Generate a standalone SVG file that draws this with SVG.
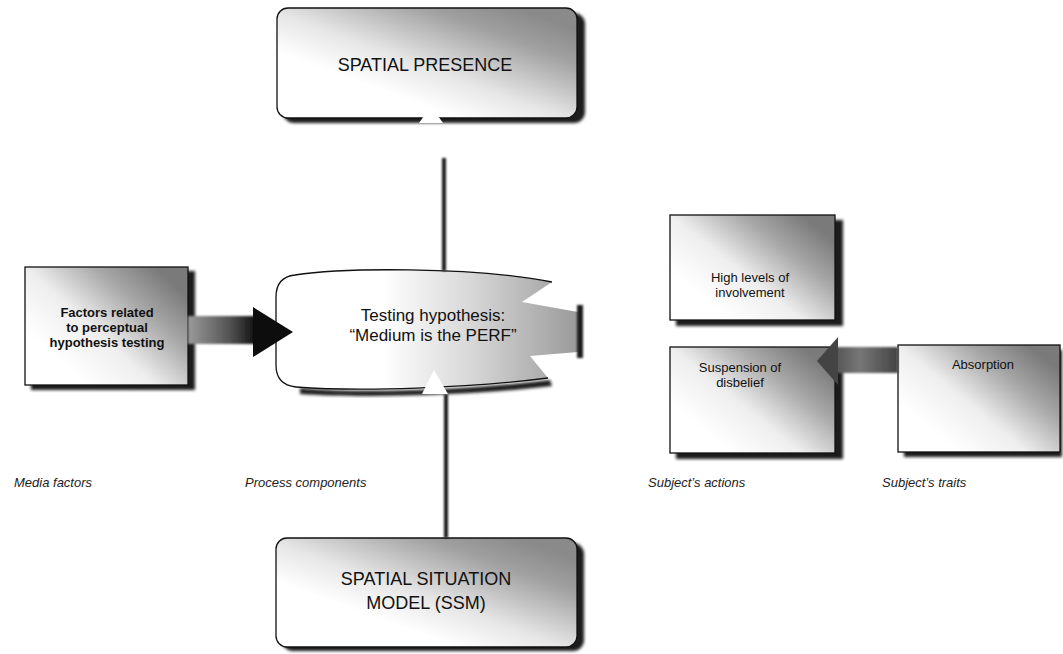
<svg xmlns="http://www.w3.org/2000/svg" width="1063" height="654" viewBox="0 0 1063 654">
  <defs>
    <linearGradient id="gBox" x1="0.25" y1="0.85" x2="1" y2="0.25">
      <stop offset="0" stop-color="#ffffff"/>
      <stop offset="0.35" stop-color="#eeeeee"/>
      <stop offset="0.7" stop-color="#a8a8a8"/>
      <stop offset="1" stop-color="#7a7a7a"/>
    </linearGradient>
    <linearGradient id="gWide" x1="0.4" y1="0.8" x2="1" y2="0.2">
      <stop offset="0" stop-color="#ffffff"/>
      <stop offset="0.3" stop-color="#e6e6e6"/>
      <stop offset="0.75" stop-color="#a0a0a0"/>
      <stop offset="1" stop-color="#8a8a8a"/>
    </linearGradient>
    <linearGradient id="gCenter" x1="0.35" y1="0.5" x2="1" y2="0.5">
      <stop offset="0" stop-color="#ffffff"/>
      <stop offset="0.45" stop-color="#d8d8d8"/>
      <stop offset="1" stop-color="#9a9a9a"/>
    </linearGradient>
    <linearGradient id="gShaftL" x1="0" y1="0" x2="1" y2="0">
      <stop offset="0" stop-color="#9a9a9a"/>
      <stop offset="0.6" stop-color="#555555"/>
      <stop offset="1" stop-color="#111111"/>
    </linearGradient>
    <linearGradient id="gShaftR" x1="1" y1="0" x2="0" y2="0">
      <stop offset="0" stop-color="#444444"/>
      <stop offset="0.6" stop-color="#777777"/>
      <stop offset="1" stop-color="#555555"/>
    </linearGradient>
    <filter id="soft" x="-10%" y="-10%" width="120%" height="120%">
      <feGaussianBlur stdDeviation="1.6"/>
    </filter>
    <filter id="grain" filterUnits="userSpaceOnUse" x="0" y="0" width="1063" height="654">
      <feGaussianBlur stdDeviation="0.9"/>
    </filter>
  </defs>
  <style>
    .frame { stroke: #111; stroke-width: 1.3; }
    .shadow { fill: #1a1a1a; filter: url(#soft); }
    .big { font-family: "Liberation Sans", "Open Sans", sans-serif; font-size: 18px; fill: #111; text-anchor: middle; }
    .mid { font-family: "Liberation Sans", "Open Sans", sans-serif; font-size: 17px; fill: #111; text-anchor: middle; }
    .small { font-family: "Liberation Sans", "Open Sans", sans-serif; font-size: 13px; fill: #111; text-anchor: middle; }
    .cap { font-family: "Liberation Sans", "Open Sans", sans-serif; font-size: 13px; font-style: italic; fill: #222; }
    .line { fill: #1c1c1c; filter: url(#grain); }
  </style>

  <rect width="1063" height="654" fill="#ffffff"/>

  <!-- top box -->
  <g id="spatial-presence">
    <rect class="shadow" x="283" y="13" width="302" height="110" rx="11"/>
    <rect class="frame" x="277" y="8" width="300" height="110" rx="11" fill="url(#gWide)"/>
    <text class="big" x="425" y="71">SPATIAL PRESENCE</text>
  </g>

  <!-- central hypothesis shape -->
  <g id="testing-hypothesis">
    <path class="shadow" d="M 300,388 C 360,394 470,390 550,380 L 552,386 C 470,396 360,398 300,394 Z"/>
    <path d="M 295,275 C 340,268 470,266 552,282 L 522,302 L 578,312 L 578,352 L 530,356 L 548,378 C 470,388 360,392 296,387 Q 276,385 276,365 L 276,297 Q 276,277 295,275 Z" fill="url(#gCenter)"/>
    <path class="frame" fill="none" d="M 552,282 C 470,266 340,268 295,275 Q 276,277 276,297 L 276,365 Q 276,385 296,387 C 360,392 470,388 548,378"/>
    <rect x="577" y="305" width="6" height="53" fill="#1a1a1a" filter="url(#grain)"/>
    <text class="mid" x="433" y="321">Testing hypothesis:</text>
    <text class="mid" x="433" y="341">“Medium is the PERF”</text>
  </g>

  <!-- bottom box -->
  <g id="spatial-situation-model">
    <rect class="shadow" x="282" y="543" width="302" height="108" rx="11"/>
    <rect class="frame" x="276" y="538" width="301" height="109" rx="11" fill="url(#gWide)"/>
    <text class="big" x="426" y="585">SPATIAL SITUATION</text>
    <text class="big" x="426" y="609">MODEL (SSM)</text>
  </g>

  <!-- media factor box -->
  <g id="perceptual-factors">
    <rect class="shadow" x="31" y="271" width="164" height="119"/>
    <rect class="frame" x="25" y="267" width="163" height="118" fill="url(#gBox)"/>
    <text class="small" x="107" y="317" font-weight="bold">Factors related</text>
    <text class="small" x="107" y="332" font-weight="bold">to perceptual</text>
    <text class="small" x="107" y="347" font-weight="bold">hypothesis testing</text>
  </g>

  <!-- subject boxes -->
  <g id="high-involvement">
    <rect class="shadow" x="676" y="220" width="167" height="106"/>
    <rect class="frame" x="670" y="215" width="165" height="105" fill="url(#gBox)"/>
    <text class="small" x="750" y="282">High levels of</text>
    <text class="small" x="750" y="297">involvement</text>
  </g>

  <g id="suspension-of-disbelief">
    <rect class="shadow" x="676" y="352" width="167" height="107"/>
    <rect class="frame" x="670" y="347" width="165" height="106" fill="url(#gBox)"/>
    <text class="small" x="740" y="372">Suspension of</text>
    <text class="small" x="740" y="387">disbelief</text>
  </g>

  <g id="absorption">
    <rect class="shadow" x="904" y="350" width="158" height="107"/>
    <rect class="frame" x="898" y="345" width="162" height="107" fill="url(#gBox)"/>
    <text class="small" x="983" y="369">Absorption</text>
  </g>

  <!-- connectors -->
  <g id="connectors">
    <!-- hypothesis to spatial presence -->
    <rect class="line" x="442" y="158" width="4" height="113"/>
    <polygon points="419,123 443,123 431,106" fill="#ffffff"/>
    <!-- SSM to hypothesis -->
    <rect class="line" x="444" y="394" width="4" height="144"/>
    <polygon points="422,394 448,394 434,370" fill="#ffffff"/>
    <!-- factors to hypothesis -->
    <rect x="188" y="316" width="68" height="28" fill="url(#gShaftL)" filter="url(#grain)"/>
    <polygon points="253,307 293,332 253,357" fill="#0d0d0d"/>
    <!-- absorption to suspension -->
    <rect x="835" y="347" width="63" height="26" fill="url(#gShaftR)" filter="url(#grain)"/>
    <polygon points="838,337 817,361 838,385" fill="#444444"/>
  </g>

  <!-- column captions -->
  <g id="captions">
    <text class="cap" x="14" y="487">Media factors</text>
    <text class="cap" x="245" y="487">Process components</text>
    <text class="cap" x="648" y="487">Subject’s actions</text>
    <text class="cap" x="882" y="487">Subject’s traits</text>
  </g>
</svg>
